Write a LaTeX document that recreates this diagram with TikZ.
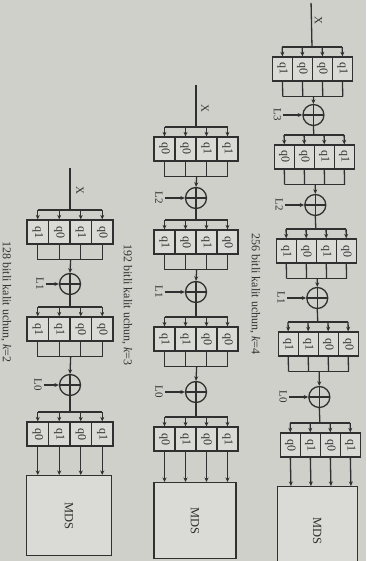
\documentclass[tikz,border=0pt]{standalone}
\usepackage{fontspec}
\setmainfont{Liberation Serif}
\usetikzlibrary{arrows.meta}
\definecolor{paper}{RGB}{208,208,203}
\definecolor{boxfill}{RGB}{218,218,214}
\definecolor{ink}{RGB}{48,48,48}
\tikzset{
  arr/.style={-{Stealth[length=4.5pt,width=4pt]}},
  qbox/.style={draw=ink, fill=boxfill, minimum height=24pt, inner sep=0pt,
    font=\fontsize{12}{14}\selectfont, text=ink},
  xorn/.style={draw=ink, circle, minimum size=21pt, inner sep=0pt,
    path picture={\draw[ink] (path picture bounding box.north) -- (path picture bounding box.south)
      (path picture bounding box.west) -- (path picture bounding box.east);}},
  keyl/.style={rotate=-90, font=\fontsize{11}{13}\selectfont, text=ink, inner sep=1.5pt},
  mdsbox/.style={draw=ink, fill=boxfill, inner sep=0pt, font=\fontsize{12.5}{15}\selectfont, text=ink},
  capt/.style={rotate=-90, font=\fontsize{12}{14}\selectfont, text=ink, inner sep=0pt},
}
% #1 prefix, #2 centre x, #3 bar y, #4 box width, #5-#8 labels
\newcommand\qstage[8]{%
  \coordinate (#1bar) at (#2,#3);
  \foreach \j/\lab in {1/#5,2/#6,3/#7,4/#8}{%
    \node[qbox, minimum width=#4pt] (#1q\j) at ({#2+(\j-2.5)*#4},{#3+22}) {\rotatebox{-90}{\lab}};
    \draw[arr] (#1q\j.north |- #1bar) -- (#1q\j.north);
  }%
  \draw (#1q1.north |- #1bar) -- (#1q4.north |- #1bar);
}
% #1 prefix
\newcommand\qmerge[1]{%
  \foreach \j in {1,...,4}{\draw (#1q\j.south) -- ([yshift=-15pt]#1q\j.south);}%
  \draw ([yshift=-15pt]#1q1.south) -- ([yshift=-15pt]#1q4.south);
  \coordinate (#1m) at ([yshift=-15pt]#1q2.south east);
}
% #1 name, #2 x, #3 y, #4 key text, #5 key offset, #6 from, #7 to
\newcommand\qxor[7]{%
  \node[xorn] (#1) at (#2,#3) {};
  \node[keyl] (#1k) at (#2-#5,#3) {#4};
  \draw[arr] (#6) -- (#1.north);
  \draw[arr] (#1k) -- (#1.west);
  \draw (#1.south) -- (#7);
}
\begin{document}
\begin{tikzpicture}[x=1pt,y=-1pt,line width=1.3pt,color=ink]
\useasboundingbox (0,0) rectangle (366,561);
\clip (0,0) rectangle (366,561);
\fill[paper] (0,0) rectangle (366,561);

% ---------------- right column: 256 bit, k=4 ----------------
\begin{scope}[xslant=-0.021]
\coordinate (cxin) at (311,3);
\node[keyl] (cX) at (318,20) {X};
\qstage{c1}{311}{47}{20}{q1}{q0}{q0}{q1}
\draw (cxin) -- (c1bar);
\qmerge{c1}
\qstage{c2}{311}{135}{20}{q0}{q0}{q1}{q1}
\qxor{cx1}{311}{115}{L3}{36}{c1m}{c2bar}
\qmerge{c2}
\qstage{c3}{311}{229}{20}{q1}{q0}{q1}{q0}
\qxor{cx2}{311}{205}{L2}{36}{c2m}{c3bar}
\qmerge{c3}
\qstage{c4}{311}{322}{20}{q1}{q1}{q0}{q0}
\qxor{cx3}{311}{298}{L1}{36}{c3m}{c4bar}
\qmerge{c4}
\qstage{c5}{311}{423}{20}{q0}{q1}{q0}{q1}
\qxor{cx4}{311}{397}{L0}{36}{c4m}{c5bar}
\node[mdsbox, minimum width=80pt, minimum height=89pt, anchor=north] (cmds) at (307,486) {\rotatebox{-90}{MDS}};
\foreach \j in {1,...,4}{\draw[arr] (c5q\j.south) -- (c5q\j.south |- cmds.north);}
\end{scope}
\node[capt] (capc) at (255,294) {256 bitli kalit uchun, \textit{k}=4};

% ---------------- middle column: 192 bit, k=3 ----------------
\coordinate (bxin) at (196,85);
\node[keyl] (bX) at (205,108) {X};
\qstage{b1}{196}{127}{21}{q0}{q0}{q1}{q1}
\draw (bxin) -- (b1bar);
\qmerge{b1}
\qstage{b2}{196}{220}{21}{q1}{q0}{q1}{q0}
\qxor{bx1}{196}{198}{L2}{37}{b1m}{b2bar}
\qmerge{b2}
\qstage{b3}{196}{317}{21}{q1}{q1}{q0}{q0}
\qxor{bx2}{196}{292}{L1}{37}{b2m}{b3bar}
\qmerge{b3}
\qstage{b4}{196}{417}{21}{q0}{q1}{q0}{q1}
\qxor{bx3}{196}{392}{L0}{37}{b3m}{b4bar}
\node[mdsbox, minimum width=82pt, minimum height=76pt, anchor=north] (bmds) at (195,482) {\rotatebox{-90}{MDS}};
\foreach \j in {1,...,4}{\draw[arr] (b4q\j.south) -- (b4q\j.south |- bmds.north);}
\node[capt] (capb) at (127,305) {192 bitli kalit uchun, \textit{k}=3};

% ---------------- left column: 128 bit, k=2 ----------------
\coordinate (axin) at (70,168);
\node[keyl] (aX) at (80,190) {X};
\qstage{a1}{70}{210}{21.5}{q1}{q0}{q1}{q0}
\draw (axin) -- (a1bar);
\qmerge{a1}
\qstage{a2}{70}{307}{21.5}{q1}{q1}{q0}{q0}
\qxor{ax1}{70}{284}{L1}{30}{a1m}{a2bar}
\qmerge{a2}
\qstage{a3}{70}{412}{21.5}{q0}{q1}{q0}{q1}
\qxor{ax2}{70}{385}{L0}{32}{a2m}{a3bar}
\node[mdsbox, minimum width=85pt, minimum height=80pt, anchor=north] (amds) at (69,475) {\rotatebox{-90}{MDS}};
\foreach \j in {1,...,4}{\draw[arr] (a3q\j.south) -- (a3q\j.south |- amds.north);}
\node[capt] (capa) at (6,302) {128 bitli kalit uchun, \textit{k}=2};
\end{tikzpicture}
\end{document}
